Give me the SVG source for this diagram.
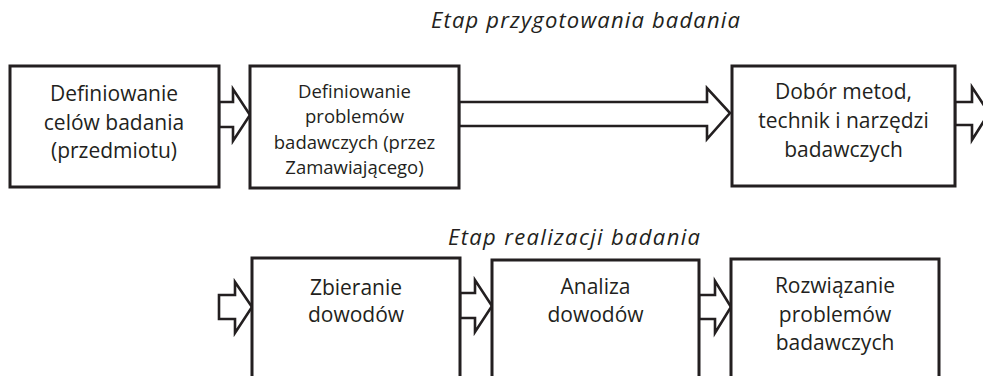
<svg xmlns="http://www.w3.org/2000/svg" width="983" height="376" viewBox="0 0 983 376">
<style>
.box{fill:#fff;stroke:#231f20;stroke-width:3}
.arr{fill:#fff;stroke:#231f20;stroke-width:2.6;stroke-linejoin:miter}
text{font-family:"Open Sans","Noto Sans",sans-serif;fill:#231f20}
.t{font-size:21px;text-anchor:middle}
.s{font-size:18.5px;text-anchor:middle}
.h{font-size:22px;font-style:italic}
</style>
<rect width="983" height="376" fill="#fff"/>
<text class="h" x="431" y="28" textLength="309" lengthAdjust="spacing">Etap przygotowania badania</text>
<text class="h" x="448" y="245" textLength="252" lengthAdjust="spacing">Etap realizacji badania</text>
<g id="connectors">
<polygon class="arr" points="219,102 233,102 233,89 250,115 233,141 233,127 219,127"/>
<polygon class="arr" points="459,102 707,102 707,88 730,113 707,139 707,126 459,126"/>
<polygon class="arr" points="955,102 972,102 972,87 989,113 972,140 972,125 955,125"/>
<polygon class="arr" points="219,295 235,295 235,282 252,307 235,333 235,319 219,319"/>
<polygon class="arr" points="460,293 475,293 475,280 492,306 475,332 475,318 460,318"/>
<polygon class="arr" points="699,295 715,295 715,281 731,307 715,333 715,319 699,319"/>
</g>
<g id="n1"><rect class="box" x="10" y="66" width="209" height="121"/>
<text class="t" x="114" y="101">Definiowanie</text><text class="t" x="114" y="130">celów badania</text><text class="t" x="114" y="158">(przedmiotu)</text></g>
<g id="n2"><rect class="box" x="250" y="66" width="209" height="122"/>
<text class="s" x="354.5" y="98">Definiowanie</text><text class="s" x="354.5" y="123">problemów</text><text class="s" x="354.5" y="149">badawczych (przez</text><text class="s" x="354.5" y="174">Zamawiającego)</text></g>
<g id="n3"><rect class="box" x="732" y="66" width="223" height="120"/>
<text class="t" x="843.5" y="99">Dobór metod,</text><text class="t" x="843.5" y="128">technik i narzędzi</text><text class="t" x="843.5" y="157">badawczych</text></g>
<g id="n4"><rect class="box" x="252" y="258" width="208" height="140"/>
<text class="t" x="356" y="295">Zbieranie</text><text class="t" x="356" y="322">dowodów</text></g>
<g id="n5"><rect class="box" x="492" y="260" width="207" height="140"/>
<text class="t" x="595.5" y="294">Analiza</text><text class="t" x="595.5" y="322">dowodów</text></g>
<g id="n6"><rect class="box" x="731" y="259" width="208" height="140"/>
<text class="t" x="835" y="293">Rozwiązanie</text><text class="t" x="835" y="322">problemów</text><text class="t" x="835" y="350">badawczych</text></g>
</svg>
